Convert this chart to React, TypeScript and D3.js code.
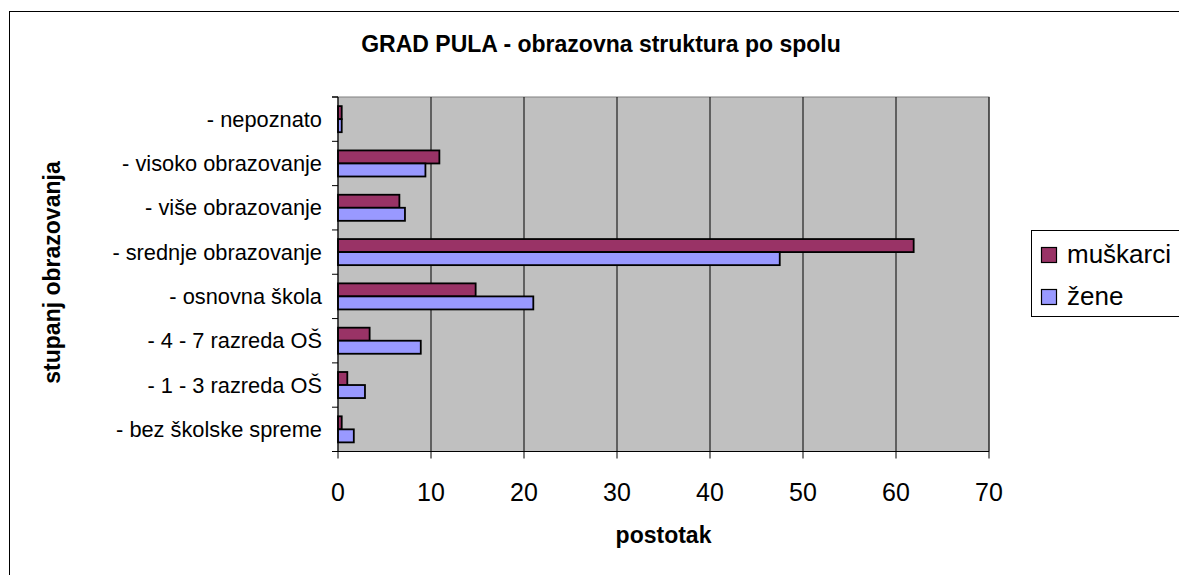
import * as d3 from "d3";
import { useEffect, useRef } from "react";

// categories in data order (Excel draws the first one at the bottom)
const categories = [
  "- bez školske spreme",
  "- 1 - 3 razreda OŠ",
  "- 4 - 7 razreda OŠ",
  "- osnovna škola",
  "- srednje obrazovanje",
  "- više obrazovanje",
  "- visoko obrazovanje",
  "- nepoznato",
];

const muskarci = [0.4, 1.0, 3.4, 14.8, 61.9, 6.6, 10.9, 0.4];
const zene = [1.7, 2.9, 8.9, 21.0, 47.5, 7.2, 9.4, 0.4];

const seriesNames = ["muškarci", "žene"];
const seriesColors = ["#993366", "#9999FF"];
const xTicks = [0, 10, 20, 30, 40, 50, 60, 70];

const W = 1179;
const H = 575;
const FONT = "Arial, 'Liberation Sans', sans-serif";

const App = () => {
  const ref = useRef<SVGSVGElement>(null);

  useEffect(() => {
    const svg = d3.select(ref.current);
    svg.selectAll("*").remove();

    const plot = { left: 338, right: 989, top: 97, bottom: 451.5 };

    const x = d3.scaleLinear().domain([0, 70]).range([plot.left, plot.right]);
    const y = d3
      .scaleBand()
      .domain(categories.slice().reverse())
      .range([plot.top, plot.bottom])
      .padding(0);
    const ySeries = d3
      .scaleBand()
      .domain(seriesNames)
      .range([0, y.bandwidth()])
      .paddingInner(0)
      .paddingOuter(0.7);

    // outer frame
    svg
      .append("rect")
      .attr("x", 9.5)
      .attr("y", 11.5)
      .attr("width", W + 20)
      .attr("height", H + 20)
      .attr("fill", "white")
      .attr("stroke", "black")
      .attr("stroke-width", 1);

    // title
    svg
      .append("text")
      .attr("x", 601)
      .attr("y", 51.5)
      .attr("text-anchor", "middle")
      .style("font", `bold 23px ${FONT}`)
      .text("GRAD PULA - obrazovna struktura po spolu");

    // plot area
    svg
      .append("rect")
      .attr("x", plot.left)
      .attr("y", plot.top)
      .attr("width", plot.right - plot.left)
      .attr("height", plot.bottom - plot.top)
      .attr("fill", "#C0C0C0")
      .attr("stroke", "#808080")
      .attr("stroke-width", 1);

    // vertical gridlines
    svg
      .append("g")
      .selectAll("line")
      .data(xTicks.slice(1))
      .enter()
      .append("line")
      .attr("x1", (d) => x(d))
      .attr("x2", (d) => x(d))
      .attr("y1", plot.top)
      .attr("y2", plot.bottom)
      .attr("stroke", "black")
      .attr("stroke-width", 1);

    // bars
    const data = categories.map((c, i) => ({ c, values: [muskarci[i], zene[i]] }));
    seriesNames.forEach((s, si) => {
      svg
        .append("g")
        .selectAll("rect")
        .data(data)
        .enter()
        .append("rect")
        .attr("x", x(0))
        .attr("y", (d) => (y(d.c) as number) + (ySeries(s) as number))
        .attr("width", (d) => x(d.values[si]) - x(0))
        .attr("height", ySeries.bandwidth())
        .attr("fill", seriesColors[si])
        .attr("stroke", "black")
        .attr("stroke-width", 1.8);
    });

    // y axis
    svg
      .append("line")
      .attr("x1", plot.left)
      .attr("x2", plot.left)
      .attr("y1", plot.top)
      .attr("y2", plot.bottom)
      .attr("stroke", "black")
      .attr("stroke-width", 1.2);

    const bounds = categories.map((c) => y(c) as number).concat([plot.top]);
    svg
      .append("g")
      .selectAll("line")
      .data(bounds)
      .enter()
      .append("line")
      .attr("x1", plot.left - 6)
      .attr("x2", plot.left)
      .attr("y1", (d) => d)
      .attr("y2", (d) => d)
      .attr("stroke", "black");

    svg
      .append("g")
      .selectAll("text")
      .data(categories)
      .enter()
      .append("text")
      .attr("x", 322)
      .attr("y", (d) => (y(d) as number) + y.bandwidth() / 2)
      .attr("dy", "0.35em")
      .attr("text-anchor", "end")
      .style("font", `21.8px ${FONT}`)
      .text((d) => d);

    // x axis
    svg
      .append("line")
      .attr("x1", plot.left - 6)
      .attr("x2", plot.right)
      .attr("y1", plot.bottom)
      .attr("y2", plot.bottom)
      .attr("stroke", "black")
      .attr("stroke-width", 1.2);

    svg
      .append("g")
      .selectAll("line")
      .data(xTicks)
      .enter()
      .append("line")
      .attr("x1", (d) => x(d))
      .attr("x2", (d) => x(d))
      .attr("y1", plot.bottom)
      .attr("y2", plot.bottom + 7)
      .attr("stroke", "black");

    svg
      .append("g")
      .selectAll("text")
      .data(xTicks)
      .enter()
      .append("text")
      .attr("x", (d) => x(d))
      .attr("y", 501)
      .attr("text-anchor", "middle")
      .style("font", `25px ${FONT}`)
      .text((d) => d);

    // axis titles
    svg
      .append("text")
      .attr("x", (plot.left + plot.right) / 2)
      .attr("y", 542.5)
      .attr("text-anchor", "middle")
      .style("font", `bold 23px ${FONT}`)
      .text("postotak");

    svg
      .append("text")
      .attr("transform", "translate(60, 272.5) rotate(-90)")
      .attr("text-anchor", "middle")
      .style("font", `bold 23px ${FONT}`)
      .text("stupanj obrazovanja");

    // legend
    const legend = svg.append("g");
    legend
      .append("rect")
      .attr("x", 1031.5)
      .attr("y", 230.5)
      .attr("width", 200)
      .attr("height", 86)
      .attr("fill", "white")
      .attr("stroke", "black");

    seriesNames.forEach((s, i) => {
      const top = 247 + i * 42;
      legend
        .append("rect")
        .attr("x", 1041.5)
        .attr("y", top + 0.5)
        .attr("width", 15)
        .attr("height", 15)
        .attr("fill", seriesColors[i])
        .attr("stroke", "black")
        .attr("stroke-width", 1.2);
      legend
        .append("text")
        .attr("x", 1067)
        .attr("y", top + 15.5)
        .style("font", `26px ${FONT}`)
        .text(s);
    });
  }, []);

  return (
    <svg
      ref={ref}
      width={W}
      height={H}
      style={{ position: "absolute", left: 0, top: 0, background: "white" }}
    ></svg>
  );
};

export default App;
